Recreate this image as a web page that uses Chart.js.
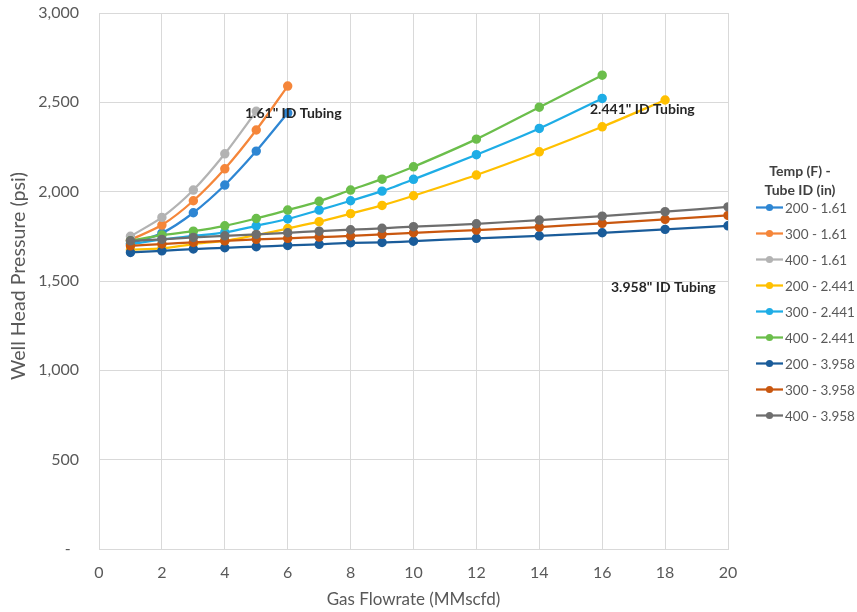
<!DOCTYPE html>
<html>
<head>
<meta charset="utf-8">
<script src="https://cdn.jsdelivr.net/npm/chart.js@4/dist/chart.umd.min.js"></script>
<style>
  html, body { margin: 0; padding: 0; background: #fff; }
  #wrap { width: 857px; height: 612px; }
</style>
</head>
<body>
<div id="wrap"><canvas id="chart"></canvas></div>
<script>
// Gas flowrate values (MMscfd) used by each tubing size
const flow161 = [1, 2, 3, 4, 5, 6];
const flow2441 = [1, 2, 3, 4, 5, 6, 7, 8, 9, 10, 12, 14, 16, 18];
const flow3958 = [1, 2, 3, 4, 5, 6, 7, 8, 9, 10, 12, 14, 16, 18, 20];

// Well head pressure (psi)
const p200_161 = [1710, 1768, 1882, 2037, 2227, 2440];
const p300_161 = [1730, 1813, 1949, 2128, 2345, 2591];
const p400_161 = [1750, 1856, 2009, 2212, 2450];

const p200_2441 = [1675, 1683, 1707, 1725, 1757, 1794, 1832, 1877, 1923, 1977, 2093, 2223, 2363, 2513];
const p300_2441 = [1705, 1733, 1752, 1772, 1809, 1847, 1897, 1949, 2003, 2069, 2207, 2354, 2522];
const p400_2441 = [1725, 1757, 1779, 1809, 1850, 1897, 1946, 2009, 2070, 2139, 2294, 2473, 2652];

const p200_3958 = [1660, 1669, 1679, 1686, 1692, 1699, 1705, 1714, 1716, 1723, 1739, 1753, 1770, 1789, 1809];
const p300_3958 = [1697, 1707, 1716, 1725, 1733, 1739, 1746, 1752, 1761, 1770, 1785, 1802, 1823, 1845, 1867];
const p400_3958 = [1725, 1733, 1744, 1753, 1761, 1770, 1779, 1787, 1795, 1804, 1820, 1841, 1863, 1888, 1915];

const seriesLabels = ['200 - 1.61', '300 - 1.61', '400 - 1.61',
                      '200 - 2.441', '300 - 2.441', '400 - 2.441',
                      '200 - 3.958', '300 - 3.958', '400 - 3.958'];
const seriesFlows = [flow161, flow161, flow161, flow2441, flow2441, flow2441, flow3958, flow3958, flow3958];
const seriesValues = [p200_161, p300_161, p400_161, p200_2441, p300_2441, p400_2441, p200_3958, p300_3958, p400_3958];
const seriesColors = ['#2E86D3', '#F5863A', '#B3B3B3', '#FFC000', '#1EADE6', '#6BBE4B', '#1A5C9A', '#C9570F', '#6E6E6E'];

const xTicks = [0, 2, 4, 6, 8, 10, 12, 14, 16, 18, 20];

const fontFamily = 'Lato, "Open Sans", sans-serif';
const gridColor = '#d9d9d9';
const textGray = '#595959';

// build datasets, last series drawn on top like Excel
const datasets = seriesLabels.map((label, i) => ({
    label: label,
    data: seriesValues[i].map((v, j) => ({ x: seriesFlows[i][j], y: v })),
    borderColor: seriesColors[i],
    backgroundColor: seriesColors[i],
    borderWidth: 2.25,
    pointRadius: 3.6,
    pointHoverRadius: 4,
    tension: 0.25,
    order: seriesLabels.length - i
}));

// Legend on the right side, y axis title and the tubing notes
const notesPlugin = {
    id: 'notes',
    afterDraw(chart) {
        const ctx = chart.ctx;
        ctx.save();
        ctx.textBaseline = 'middle';

        // y axis title (stretched a bit like in the original)
        ctx.save();
        ctx.translate(19, 276);
        ctx.rotate(-Math.PI / 2);
        ctx.font = '19px ' + fontFamily;
        ctx.fillStyle = textGray;
        ctx.textAlign = 'center';
        const yTitle = 'Well Head Pressure (psi)';
        const w = ctx.measureText(yTitle).width;
        ctx.scale(208 / w, 1);
        ctx.fillText(yTitle, 0, 0);
        ctx.restore();

        // tubing annotations
        ctx.fillStyle = '#262626';
        ctx.font = 'bold 14px ' + fontFamily;
        ctx.textAlign = 'left';
        ctx.fillText('1.61" ID Tubing', 245, 113);
        ctx.fillText('2.441" ID Tubing', 590, 109);
        ctx.fillText('3.958" ID Tubing', 611, 287);

        // legend title
        ctx.textAlign = 'center';
        ctx.font = 'bold 14px ' + fontFamily;
        ctx.fillStyle = '#404040';
        ctx.fillText('Temp (F) -', 800, 171);
        ctx.fillText('Tube ID (in)', 800, 190);

        // legend entries
        ctx.font = '13.5px ' + fontFamily;
        ctx.textAlign = 'left';
        chart.data.datasets.forEach((ds, i) => {
            const y = 207.5 + i * 26;
            ctx.strokeStyle = ds.borderColor;
            ctx.lineWidth = 2.25;
            ctx.beginPath();
            ctx.moveTo(756, y);
            ctx.lineTo(783, y);
            ctx.stroke();
            ctx.fillStyle = ds.borderColor;
            ctx.beginPath();
            ctx.arc(769.5, y, 3.6, 0, Math.PI * 2);
            ctx.fill();
            ctx.fillStyle = textGray;
            ctx.fillText(ds.label, 785, y + 1);
        });
        ctx.restore();
    }
};

const ctx = document.getElementById('chart').getContext('2d');
new Chart(ctx, {
    type: 'line',
    data: { datasets: datasets },
    options: {
        responsive: true,
        maintainAspectRatio: false,
        animation: false,
        layout: { padding: { top: 13, right: 129, left: 0, bottom: 0 } },
        plugins: {
            legend: { display: false },
            tooltip: { enabled: false }
        },
        scales: {
            x: {
                type: 'linear',
                min: 0,
                max: 20,
                afterBuildTicks: (scale) => { scale.ticks = xTicks.map(v => ({ value: v })); },
                afterFit: (scale) => { scale.height = 63; scale.paddingLeft = 0; scale.paddingRight = 0; },
                ticks: { color: textGray, font: { family: fontFamily, size: 16 }, padding: 14 },
                grid: { color: gridColor, lineWidth: 1, drawTicks: false },
                border: { color: gridColor },
                title: {
                    display: true,
                    text: 'Gas Flowrate (MMscfd)',
                    color: textGray,
                    font: { family: fontFamily, size: 17 },
                    padding: { top: 0, bottom: 2 }
                }
            },
            y: {
                min: 0,
                max: 3000,
                afterFit: (scale) => { scale.width = 99; scale.paddingTop = 0; scale.paddingBottom = 0; },
                ticks: {
                    stepSize: 500,
                    color: textGray,
                    font: { family: fontFamily, size: 16 },
                    padding: 20,
                    callback: (v) => v === 0 ? '-  ' : v.toLocaleString('en-US')
                },
                grid: { color: gridColor, lineWidth: 1, drawTicks: false },
                border: { color: gridColor },
                title: { display: false }
            }
        }
    },
    plugins: [notesPlugin]
});
</script>
</body>
</html>
